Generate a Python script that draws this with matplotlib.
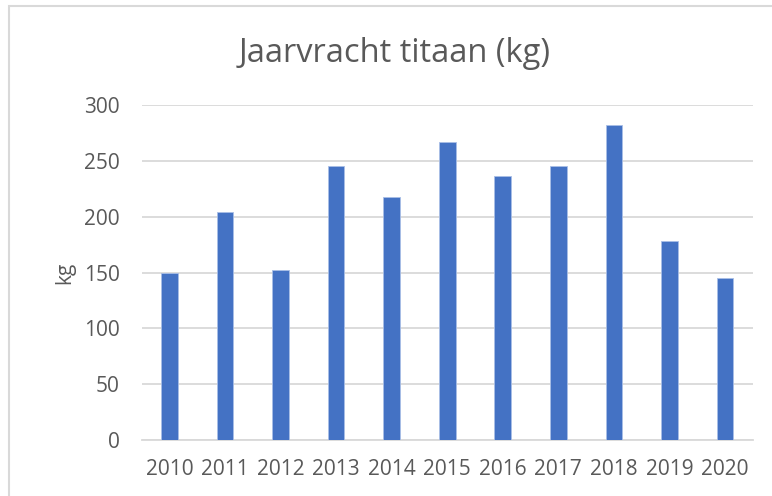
import matplotlib
matplotlib.use("Agg")
import matplotlib.pyplot as plt
from matplotlib.patches import Rectangle


# ==============================
# DATA
# ==============================

years = ["2010", "2011", "2012", "2013", "2014", "2015",
         "2016", "2017", "2018", "2019", "2020"]
load_kg = [150, 204, 152, 245, 218, 267, 236, 245, 282, 178, 145]

y_ticks = [0, 50, 100, 150, 200, 250, 300]


# ==============================
# STYLE
# ==============================

plt.rcParams["font.family"] = ["Open Sans", "DejaVu Sans"]
TEXT_COLOR = "#595959"
BAR_COLOR = "#4472C4"
GRID_COLOR = "#D9D9D9"


# ==============================
# FIGURE
# ==============================

fig = plt.figure(figsize=(7.72, 4.96), dpi=100)
ax = fig.add_axes([0.1836, 0.1129, 0.7914, 0.6754])

# chart border (runs off the right and bottom edge)
fig.patches.append(Rectangle((9 / 772, -0.1), 1.2, 1 - 6 / 496 + 0.1,
                             transform=fig.transFigure, fill=False,
                             edgecolor=GRID_COLOR, linewidth=1.5))

x = range(len(years))
ax.bar(x, load_kg, width=0.3, color=BAR_COLOR,
       edgecolor="#A9BEE6", linewidth=0.6, zorder=3)

ax.set_xlim(-0.5, len(years) - 0.5)
ax.set_ylim(0, 300)
ax.set_xticks(list(x))
ax.set_xticklabels(years)
ax.set_yticks(y_ticks)

ax.yaxis.grid(True, color=GRID_COLOR, linewidth=1.3, zorder=0)
ax.set_axisbelow(True)
for side in ["top", "right", "left"]:
    ax.spines[side].set_visible(False)
ax.spines["bottom"].set_color(GRID_COLOR)
ax.spines["bottom"].set_linewidth(1.3)

ax.tick_params(axis="both", length=0, labelsize=15, colors=TEXT_COLOR)
ax.tick_params(axis="x", pad=14)
ax.tick_params(axis="y", pad=16)

ax.set_ylabel("kg", fontsize=15, color=TEXT_COLOR, labelpad=6)

fig.text(395 / 772, 1 - 54 / 496, "Jaarvracht titaan (kg)",
         ha="center", va="center", fontsize=23.5, color=TEXT_COLOR)

fig.savefig("out.png", dpi=100)
